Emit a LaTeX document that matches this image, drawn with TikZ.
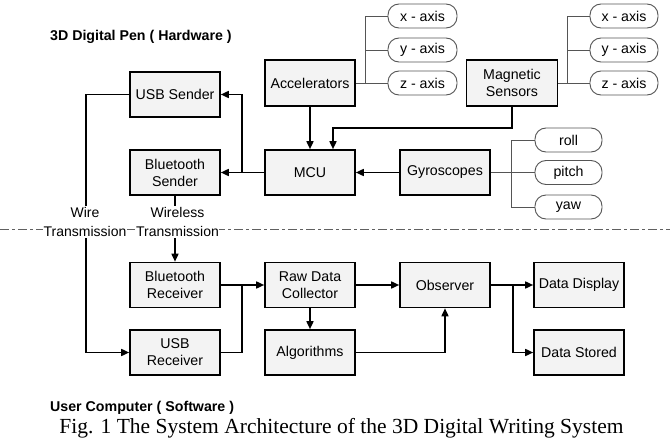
\documentclass[tikz,border=0pt]{standalone}
\usepackage{fontspec}
\setmainfont{Liberation Serif}
\setsansfont{Liberation Sans}
\usetikzlibrary{arrows.meta}
\definecolor{boxfill}{HTML}{F3F3F3}
\definecolor{pillline}{HTML}{555555}
\definecolor{dashcol}{HTML}{606060}
\tikzset{
  blk/.style={draw=black, line width=1.6pt, fill=boxfill, minimum width=90pt, minimum height=45pt,
    inner sep=0pt, align=center, font=\sffamily\fontsize{14.2}{17}\selectfont},
  pill/.style={draw=pillline, line width=0.9pt, fill=white, rounded corners=11pt, minimum width=69pt,
    minimum height=24pt, inner sep=0pt, font=\sffamily\fontsize{14.2}{17}\selectfont},
  conn/.style={draw=black, line width=1.6pt},
  arr/.style={conn, -{Triangle[length=8pt,width=7pt]}},
  branch/.style={draw=pillline, line width=0.9pt},
  lbl/.style={fill=white, inner xsep=0.5pt, inner ysep=1.5pt, align=center, font=\sffamily\fontsize{14}{18.5}\selectfont},
  head/.style={font=\sffamily\bfseries\fontsize{14.2}{17}\selectfont, anchor=west, inner sep=0pt},
  dashline/.style={draw=dashcol, line width=1.4pt, dash pattern=on 9pt off 3pt on 3pt off 3pt}
}
\begin{document}
\begin{tikzpicture}[x=1pt,y=-1pt]
\useasboundingbox (0,0) rectangle (670,447);
\fill[white] (0,0) rectangle (670,447);
% dashed separator
\draw[dashline] (0,229.5) -- (670,229.5);
% headings
\node[head] (hw) at (50,37) {3D Digital Pen ( Hardware )};
\node[head] (sw) at (50,408) {User Computer ( Software )};
\node[font=\rmfamily\fontsize{21.5}{24}\selectfont, inner sep=0pt] (cap) at (341.5,428)
  {Fig. 1 The System Architecture of the 3D Digital Writing System};
% hardware boxes
\node[blk] (usbs) at (175,94.5) {USB Sender};
\node[blk] (bts) at (175,172.5) {Bluetooth\\Sender};
\node[blk, minimum height=46pt] (acc) at (310,83) {Accelerators};
\node[blk] (mcu) at (310,172.5) {MCU};
\node[blk, minimum height=46pt, minimum width=91pt] (mag) at (512,83) {Magnetic\\Sensors};
\node[blk] (gyro) at (445,172.5) {Gyroscopes};
% pills
\node[pill] (accx) at (422.5,16) {x - axis};
\node[pill] (accy) at (422.5,50) {y - axis};
\node[pill] (accz) at (422.5,83) {z - axis};
\node[pill, minimum width=68pt] (magx) at (624,16) {x - axis};
\node[pill, minimum width=68pt] (magy) at (624,50) {y - axis};
\node[pill, minimum width=68pt] (magz) at (624,83) {z - axis};
\node[pill, minimum width=67pt] (roll) at (568.5,140) {roll};
\node[pill, minimum width=67pt] (pitch) at (568.5,172.5) {pitch};
\node[pill, minimum width=67pt] (yaw) at (568.5,207) {yaw};
% branches
\draw[branch] (acc.east) -- (accz.west);
\draw[branch] (acc.east) -| ([xshift=-22pt]accx.west) -- (accx.west);
\draw[branch] ([xshift=-22pt]accy.west) -- (accy.west);
\draw[branch] (mag.east) -- (magz.west);
\draw[branch] (mag.east) -| ([xshift=-22pt]magx.west) -- (magx.west);
\draw[branch] ([xshift=-22pt]magy.west) -- (magy.west);
\draw[branch] (gyro.east) -- (pitch.west);
\draw[branch] (gyro.east) -| ([xshift=-23pt]roll.west) -- (roll.west);
\draw[branch] (gyro.east) -| ([xshift=-23pt]yaw.west) -- (yaw.west);
% hardware connectors
\draw[arr] (acc.south) -- (mcu.north);
\draw[arr] (mag.south) -- ++(0,21) -| ([xshift=23pt]mcu.north);
\draw[arr] (gyro.west) -- (mcu.east);
\draw[arr] (mcu.west) -- (bts.east);
\draw[arr] (mcu.west) -- ++(-22,0) |- (usbs.east);
% transmission labels
\node[lbl] (wire) at (85,222) {Wire\\Transmission};
\node[lbl] (wless) at (177.5,222) {Wireless\\Transmission};
% software boxes
\node[blk] (btr) at (175,285) {Bluetooth\\Receiver};
\node[blk] (usbr) at (175,352.5) {USB\\Receiver};
\node[blk] (raw) at (310,285) {Raw Data\\Collector};
\node[blk] (alg) at (310,352.5) {Algorithms};
\node[blk] (obs) at (445,285) {Observer};
\node[blk] (disp) at (579,285) {Data Display};
\node[blk] (stor) at (579,352.5) {Data Stored};
% transmission connectors
\draw[conn] (usbs.west) -| ([xshift=1pt]wire.north);
\draw[arr] ([xshift=1pt]wire.south) |- (usbr.west);
\draw[conn] (bts.south) -- (bts.south |- wless.north);
\draw[arr] (btr.north |- wless.south) -- (btr.north);
% software connectors
\draw[arr] (btr.east) -- (raw.west);
\draw[conn] (usbr.east) -| ([xshift=-22pt]raw.west);
\draw[arr] (raw.south) -- (alg.north);
\draw[arr] (raw.east) -- (obs.west);
\draw[arr] (alg.east) -| (obs.south);
\draw[arr] (obs.east) -- (disp.west);
\draw[arr] (obs.east) -- ++(22,0) |- (stor.west);
\end{tikzpicture}
\end{document}
